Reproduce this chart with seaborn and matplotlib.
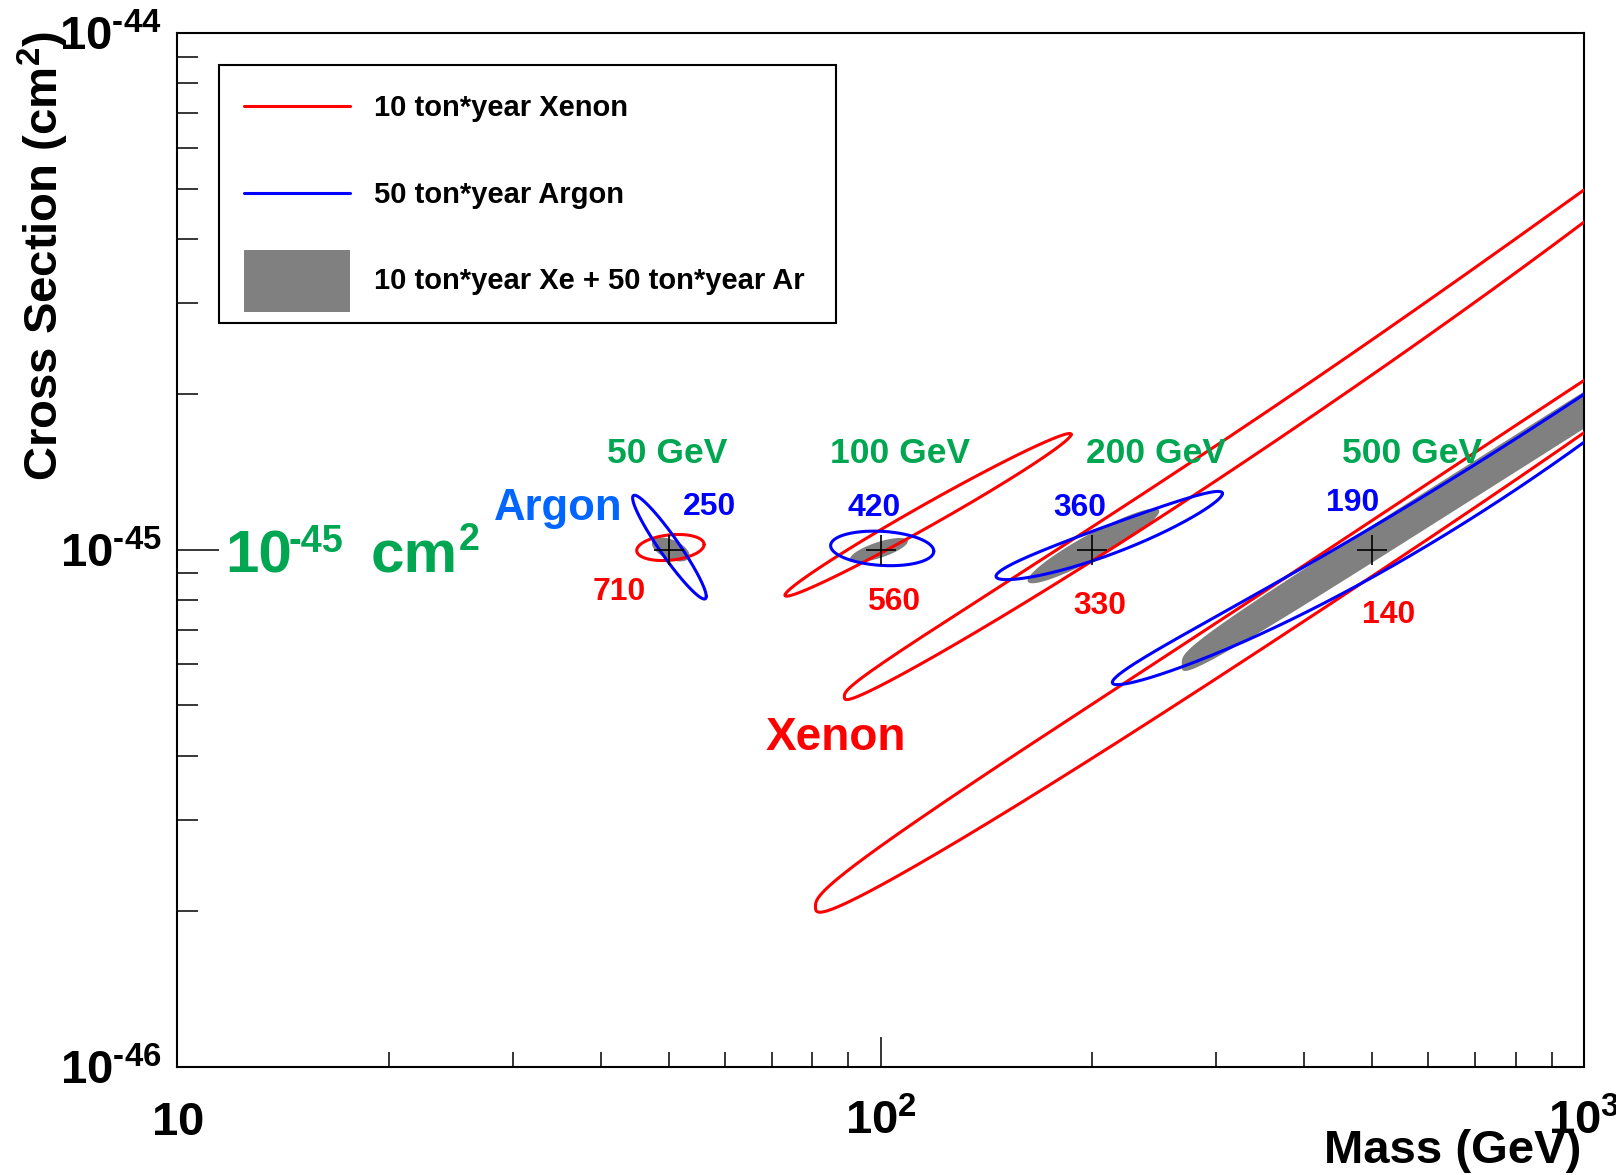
import numpy as np
import pandas as pd
import matplotlib
matplotlib.use('Agg')
import matplotlib.pyplot as plt
import seaborn as sns
from matplotlib import font_manager
from matplotlib.lines import Line2D
from matplotlib.patches import Patch
from matplotlib.legend_handler import HandlerLine2D, HandlerPatch
from matplotlib.ticker import LogLocator, NullFormatter

# benchmark WIMP points
bench_mass = [50, 100, 200, 500]
bench_sigma = [1e-45, 1e-45, 1e-45, 1e-45]
bench_text = ['50 GeV', '100 GeV', '200 GeV', '500 GeV']

# contours, one entry per benchmark:
# both ends of the contour (GeV, cm2), vertical half width (decades),
# end shape exponent and bow of the band (decades)
xe_m1 = [45.0, 73.1, 88.8, 80.8]
xe_s1 = [0.997e-45, 0.817e-45, 0.520e-45, 0.204e-45]
xe_m2 = [56.1, 186.6, 1772, 2020]
xe_s2 = [1.024e-45, 1.672e-45, 8.30e-45, 3.64e-45]
xe_hw = [0.0246, 0.024, 0.034, 0.054]
xe_pow = [2, 2, 3, 3]
xe_bow = [0, 0, 0.0387, 0.0155]
xe_events = ['710', '560', '330', '140']

ar_m1 = [44.4, 84.9, 145.9, 213.5]
ar_s1 = [1.260e-45, 1.019e-45, 0.889e-45, 0.554e-45]
ar_m2 = [56.5, 119.0, 306.2, 2020]
ar_s2 = [0.813e-45, 0.994e-45, 1.285e-45, 3.69e-45]
ar_hw = [0.032, 0.033, 0.029, 0.050]
ar_pow = [2, 2, 2, 2]
ar_bow = [0, 0, 0.01, 0.0638]
ar_events = ['250', '420', '360', '190']

cb_m1 = [47.3, 90.5, 161.8, 268.0]
cb_s1 = [1.029e-45, 0.961e-45, 0.872e-45, 0.600e-45]
cb_m2 = [53.5, 109.3, 248.9, 1772]
cb_s2 = [0.975e-45, 1.039e-45, 1.188e-45, 3.05e-45]
cb_hw = [0.020, 0.016, 0.027, 0.036]
cb_pow = [2, 2, 2, 4]
cb_bow = [0, 0, 0, 0]

legend_labels = ['10 ton*year Xenon', '50 ton*year Argon', '10 ton*year Xe + 50 ton*year Ar']


def outline(m1, s1, m2, s2, hw, p, bow):
    # closed contour in log-log space between the two ends
    t = np.linspace(0, 2 * np.pi, 720)
    c = np.sign(np.cos(t)) * np.abs(np.cos(t)) ** (2 / p)
    s = np.sign(np.sin(t)) * np.abs(np.sin(t)) ** (2 / p)
    x1, y1, x2, y2 = np.log10([m1, s1, m2, s2])
    lx = (x1 + x2) / 2 + (x2 - x1) / 2 * c
    ly = (y1 + y2) / 2 + (y2 - y1) / 2 * c + hw * s - bow * (1 - c ** 2)
    return pd.DataFrame({'mass': 10 ** lx, 'sigma': 10 ** ly})


class LowLine(HandlerLine2D):
    # legend line level with the middle of the text
    def create_artists(self, legend, orig_handle, xdescent, ydescent, width, height,
                       fontsize, trans):
        arts = super().create_artists(legend, orig_handle, xdescent, ydescent, width,
                                      height, fontsize, trans)
        for a in arts:
            a.set_ydata(np.asarray(a.get_ydata()) - 0.34 * fontsize)
        return arts


sns.set_theme(style='white')
plt.rcParams['font.family'] = ['Liberation Sans', 'DejaVu Sans']
plt.rcParams['font.weight'] = 'bold'
plt.rcParams['text.color'] = 'black'
plt.rcParams['xtick.color'] = 'black'
plt.rcParams['ytick.color'] = 'black'
plt.rcParams['mathtext.fontset'] = 'custom'
plt.rcParams['mathtext.rm'] = 'Liberation Sans:bold'
plt.rcParams['mathtext.it'] = 'Liberation Sans:bold'
plt.rcParams['mathtext.bf'] = 'Liberation Sans:bold'
plt.rcParams['mathtext.default'] = 'bf'

names = {f.name for f in font_manager.fontManager.ttflist}
narrow = 'Liberation Sans Narrow' if 'Liberation Sans Narrow' in names else 'Liberation Sans'
k = 1.0 if narrow == 'Liberation Sans Narrow' else 0.85
ann = [narrow, 'DejaVu Sans']

fig = plt.figure(figsize=(16.16, 11.75), dpi=100)
ax = fig.add_axes([0.1097, 0.0922, 0.8705, 0.8797])
ax.set_xscale('log')
ax.set_yscale('log')

for i in range(4):
    cb = outline(cb_m1[i], cb_s1[i], cb_m2[i], cb_s2[i], cb_hw[i], cb_pow[i], cb_bow[i])
    ax.fill(cb['mass'], cb['sigma'], color='#808080', lw=0, zorder=2)

for i in range(4):
    xe = outline(xe_m1[i], xe_s1[i], xe_m2[i], xe_s2[i], xe_hw[i], xe_pow[i], xe_bow[i])
    sns.lineplot(data=xe, x='mass', y='sigma', sort=False, estimator=None,
                 color='#ff0000', lw=2.2, ax=ax, zorder=3)
    ar = outline(ar_m1[i], ar_s1[i], ar_m2[i], ar_s2[i], ar_hw[i], ar_pow[i], ar_bow[i])
    sns.lineplot(data=ar, x='mass', y='sigma', sort=False, estimator=None,
                 color='#0000ff', lw=2.2, ax=ax, zorder=3)

sns.scatterplot(x=bench_mass, y=bench_sigma, marker='+', s=480, color='black',
                linewidth=1.2, ax=ax, zorder=4, legend=False)

ax.set_xlim(10, 1000)
ax.set_ylim(1e-46, 1e-44)
ax.set_xlabel('')
ax.set_ylabel('')

ax.set_xticks([10, 100, 1000], labels=[r'$10$', r'$10^{2}$', r'$10^{3}$'])
ax.set_yticks([1e-46, 1e-45, 1e-44],
              labels=[r'$10^{\text{-}46}$', r'$10^{\text{-}45}$', r'$10^{\text{-}44}$'])
ax.xaxis.set_minor_locator(LogLocator(base=10, subs=np.arange(2, 10)))
ax.yaxis.set_minor_locator(LogLocator(base=10, subs=np.arange(2, 10)))
ax.xaxis.set_minor_formatter(NullFormatter())
ax.yaxis.set_minor_formatter(NullFormatter())
ax.tick_params(axis='x', which='major', direction='in', length=21.6, width=1.1, pad=49,
               labelsize=34, bottom=True, top=False, color='black', labelcolor='black')
ax.tick_params(axis='x', which='minor', direction='in', length=10.8, width=1.1,
               bottom=True, top=False, color='black')
ax.tick_params(axis='y', which='major', direction='in', length=30, width=1.1, pad=11,
               labelsize=34, left=True, right=False, color='black', labelcolor='black')
ax.tick_params(axis='y', which='minor', direction='in', length=15, width=1.1,
               left=True, right=False, color='black')
for lab in ax.get_xticklabels():
    lab.set_verticalalignment('baseline')
for sp in ax.spines.values():
    sp.set_linewidth(1.5)
    sp.set_color('black')

fig.text(43 / 1616, 1 - 31 / 1175, 'Cross Section (cm$^{2}$)', rotation=90,
         ha='center', va='top', size=34, weight='bold', color='black')
fig.text(1581 / 1616, 1 - 1163 / 1175, 'Mass (GeV)', ha='right', va='baseline',
         size=34, weight='bold', color='black')

# annotations
gev_x = [49.8, 106.7, 246.5, 569.6]
for x, txt in zip(gev_x, bench_text):
    ax.text(x, 1.474e-45, txt, ha='center', va='baseline', size=30 * k,
            color='#00a651', family=ann, weight='bold', zorder=6)
ar_x = [57.1, 98.0, 192.2, 468.1]
ar_y = [1.170e-45, 1.161e-45, 1.161e-45, 1.188e-45]
for x, y, txt in zip(ar_x, ar_y, ar_events):
    ax.text(x, y, txt, ha='center', va='baseline', size=27 * k, color='#0000ff',
            family=ann, weight='bold', zorder=6)
xe_x = [42.5, 104.4, 204.6, 528.2]
xe_y = [0.798e-45, 0.766e-45, 0.750e-45, 0.7225e-45]
for x, y, txt in zip(xe_x, xe_y, xe_events):
    ax.text(x, y, txt, ha='center', va='baseline', size=27 * k, color='#ff0000',
            family=ann, weight='bold', zorder=6)
ax.text(34.85, 1.142e-45, 'Argon', ha='center', va='baseline', size=37 * k,
        color='#0066ff', family=ann, weight='bold', zorder=6)
ax.text(86.5, 0.4103e-45, 'Xenon', ha='center', va='baseline', size=39 * k,
        color='#ff0000', family=ann, weight='bold', zorder=6)
green = '#00a651'
ax.text(11.69, 0.904e-45, '10', ha='left', va='baseline', size=51 * k, color=green,
        family=ann, weight='bold')
ax.text(14.41, 0.9924e-45, '-45', ha='left', va='baseline', size=32 * k, color=green,
        family=ann, weight='bold')
ax.text(18.82, 0.904e-45, 'cm', ha='left', va='baseline', size=51 * k, color=green,
        family=ann, weight='bold')
ax.text(25.1, 1.0e-45, '2', ha='left', va='baseline', size=32 * k, color=green,
        family=ann, weight='bold')

handles = [Line2D([], [], color='#ff0000', lw=2.2),
           Line2D([], [], color='#0000ff', lw=2.2),
           Patch(facecolor='#808080', edgecolor='none')]
leg = ax.legend(handles, legend_labels, loc='upper left', mode='expand',
                bbox_to_anchor=(0.030, 0.7198, 0.438, 0.2492), bbox_transform=ax.transAxes,
                prop={'size': 21, 'weight': 'bold', 'family': 'Liberation Sans'},
                frameon=True, fancybox=False, edgecolor='black', framealpha=1,
                borderpad=0.39, labelspacing=0.84, handlelength=4.08, handleheight=2.9,
                handletextpad=0.83, borderaxespad=0,
                handler_map={Line2D: LowLine(xpad=0.45),
                             Patch: HandlerPatch(xpad=0.45)})
leg.get_frame().set_linewidth(1.5)
leg.set_zorder(7)
for t in leg.get_texts():
    t.set_color('black')

fig.savefig('out.png', dpi=100, facecolor='white')
